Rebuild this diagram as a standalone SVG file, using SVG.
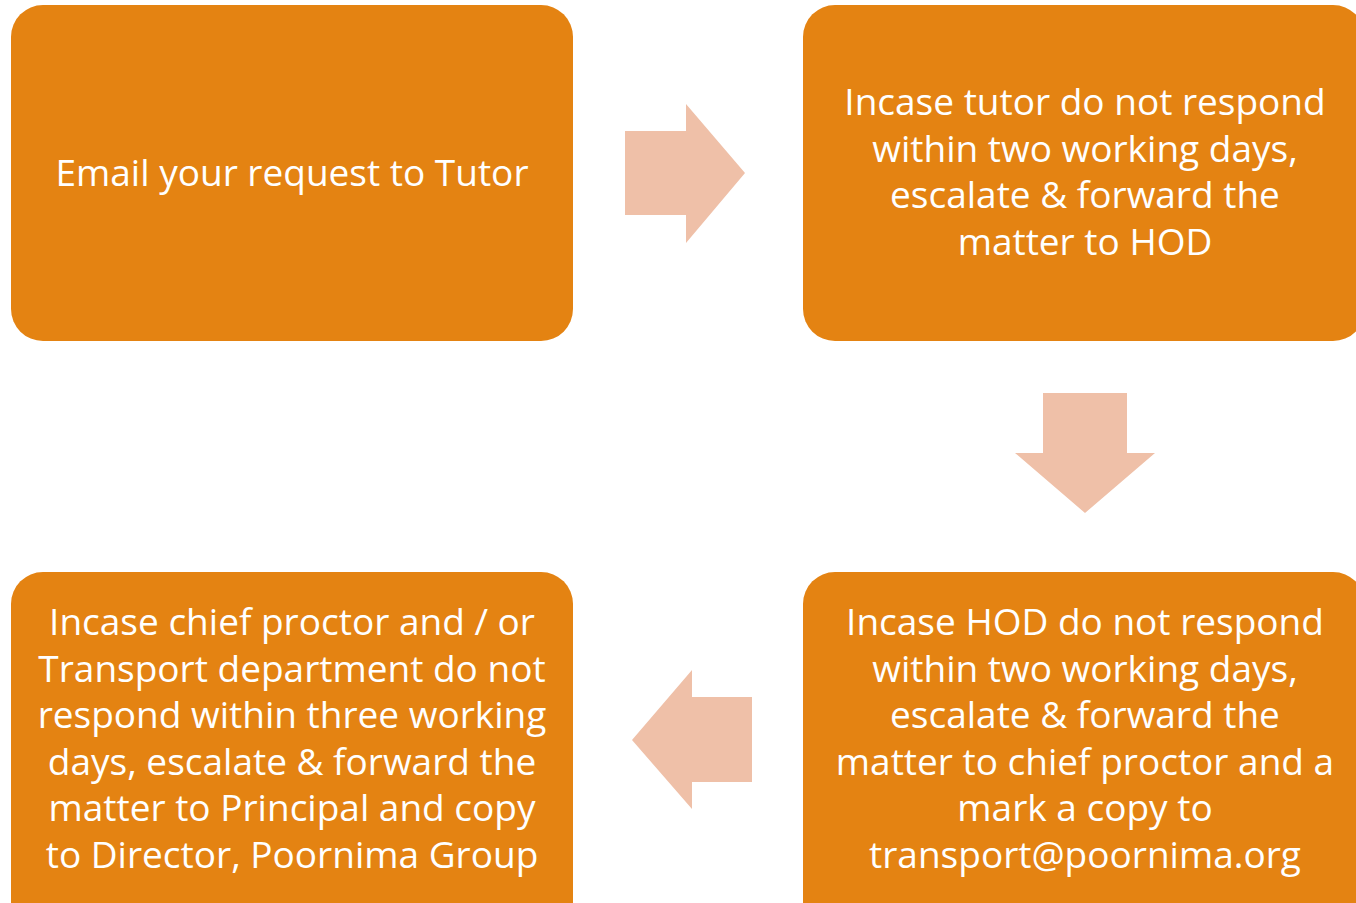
<svg xmlns="http://www.w3.org/2000/svg" width="1356" height="903" viewBox="0 0 1356 903">
<style>
.box{fill:#E48312;}
.arrow{fill:#EFC0A8;}
text{font-family:"Open Sans","Noto Sans",sans-serif;font-size:37px;fill:#FFFFFF;text-anchor:middle;}
</style>
<rect width="1356" height="903" fill="#FFFFFF"/>
<g id="node1"><rect class="box" x="11" y="5" width="562" height="336" rx="32"/>
<text x="292" y="186">Email your request to Tutor</text></g>
<g id="node2"><rect class="box" x="803" y="5" width="562" height="336" rx="32"/>
<text x="1085" y="115">Incase tutor do not respond</text>
<text x="1085" y="162">within two working days,</text>
<text x="1085" y="208">escalate &amp; forward the</text>
<text x="1085" y="255">matter to HOD</text></g>
<g id="node3"><rect class="box" x="803" y="572" width="562" height="400" rx="32"/>
<text x="1085" y="635">Incase HOD do not respond</text>
<text x="1085" y="682">within two working days,</text>
<text x="1085" y="728">escalate &amp; forward the</text>
<text x="1085" y="775">matter to chief proctor and a</text>
<text x="1085" y="821">mark a copy to</text>
<text x="1085" y="868">transport@poornima.org</text></g>
<g id="node4"><rect class="box" x="11" y="572" width="562" height="400" rx="32"/>
<text x="292" y="635">Incase chief proctor and / or</text>
<text x="292" y="682">Transport department do not</text>
<text x="292" y="728">respond within three working</text>
<text x="292" y="775">days, escalate &amp; forward the</text>
<text x="292" y="821">matter to Principal and copy</text>
<text x="292" y="868">to Director, Poornima Group</text></g>
<g id="connectors">
<polygon class="arrow" points="625,131 686,131 686,104 745,173 686,243 686,215 625,215"/>
<polygon class="arrow" points="1043,393 1127,393 1127,453 1155,453 1085,513 1015,453 1043,453"/>
<polygon class="arrow" points="752,697 692,697 692,670 632,740 692,809 692,782 752,782"/>
</g>
</svg>
